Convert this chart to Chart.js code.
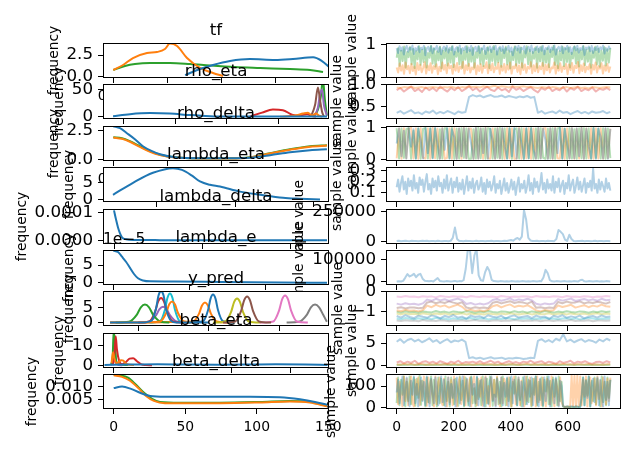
<!DOCTYPE html>
<html>
<head>
<meta charset="utf-8">
<script src="https://cdn.jsdelivr.net/npm/chart.js@4.4.0/dist/chart.umd.min.js"></script>
<style>
  body { margin: 0; background: #fff; }
  #fig { position: relative; width: 626px; height: 449px; overflow: hidden; background: #fff; }
  #fig canvas { position: absolute; left: 0; top: 0; }
</style>
</head>
<body>
<div id="fig"></div>
<script>
// ---- data: one row per variable, KDE on the left, trace on the right ----
const titles = ['tf', 'rho_eta', 'rho_delta', 'lambda_eta', 'lambda_delta', 'lambda_e', 'y_pred', 'beta_eta', 'beta_delta'];

// left column (frequency) axes
const kdeXMin = [-0.0476, 0.12, -0.0476, 0.031, -12500, -6800, -1.75, -0.35, -7.5];
const kdeXMax = [0.9976, 0.998, 0.9976, 0.32, 244000, 142000, -0.15, 7.3, 150.5];
const kdeXTicks = [[0, 0.25, 0.5, 0.75], [0.2, 0.4, 0.6, 0.8], [0, 0.25, 0.5, 0.75], [0.1, 0.2, 0.3], [0, 100000, 200000], [0, 50000, 100000], [-1.5, -1, -0.5], [0, 2, 4, 6], [0, 50, 100, 150]];
const kdeXTickLabels = [['0.00', '0.25', '0.50', '0.75'], ['0.2', '0.4', '0.6', '0.8'], ['0.00', '0.25', '0.50', '0.75'], ['0.1', '0.2', '0.3'], ['0', '100000', '200000'], ['0', '50000', '100000'], ['−1.5', '−1.0', '−0.5'], ['0', '2', '4', '6'], ['0', '50', '100', '150']];
const kdeYMin = [-0.17, -4.4, -0.155, -0.65, -1.3e-5, -0.56e-5, -1.1, -1.4, 0.0015];
const kdeYMax = [3.9, 60.4, 2.86, 9.65, 1.12e-4, 9.17e-5, 10.5, 16.1, 0.0149];
const kdeYTicks = [[0, 2.5], [0, 50], [0, 2.5], [0, 5], [0, 0.0001], [0, 5e-5], [0, 5], [0, 10], [0.005, 0.01]];
const kdeYTickLabels = [['0.0', '2.5'], ['0', '50'], ['0.0', '2.5'], ['0', '5'], ['0.0000', '0.0001'], ['0', '5'], ['0', '5'], ['0', '10'], ['0.005', '0.010']];
const kdeOffsetText = ['', '', '', '', '', '1e−5', '', '', ''];

// right column (sample value) axes
const traceXTicks = [0, 200, 400, 600];
const traceYMin = [-0.03, 0.22, -0.05, 0.016, -21700, -13600, -1.72, -0.64, -7.5];
const traceYMax = [1.06, 1.01, 1.05, 0.335, 270000, 145000, 0.03, 7.3, 157];
const traceYTicks = [[0, 1], [0.5, 1], [0, 1], [0.1, 0.2, 0.3], [0, 250000], [0, 100000], [-1, 0], [0, 5], [0, 100]];
const traceYTickLabels = [['0', '1'], ['0.5', '1.0'], ['0', '1'], ['0.1', '0.2', '0.3'], ['0', '250000'], ['0', '100000'], ['−1', '0'], ['0', '5'], ['0', '100']];

// KDE curves, [x, density]
const tfKdeBlue = [[0.332,0.17],[0.401,0.87],[0.461,1.34],[0.54,1.8],[0.632,2.03],[0.748,1.92],[0.831,2.03],[0.924,2.23],[0.965,1.8],[0.997,1.14]];
const tfKdeOrange = [[0,0.76],[0.045,1.34],[0.091,2.15],[0.156,2.73],[0.202,2.85],[0.239,3.2],[0.262,3.84],[0.295,3.55],[0.341,2.15],[0.401,1.0],[0.461,0.41],[0.507,0.06]];
const tfKdeGreen = [[0,0.76],[0.054,1.22],[0.1,1.45],[0.17,1.57],[0.262,1.57],[0.355,1.45],[0.447,1.28],[0.563,1.1],[0.679,0.99],[0.817,0.87],[0.91,0.76],[0.97,0.52]];

const rhoEtaKdeBlue = [[0.159,0.9],[0.225,4.6],[0.303,6.5],[0.38,5.6],[0.458,2.8],[0.536,0.9],[0.652,0.2],[0.808,0.1],[0.99,0.1]];
const rhoEtaKdeOrange = [[0.808,0],[0.866,1.9],[0.897,5.6],[0.916,7.4],[0.932,1.9],[0.948,5.6],[0.959,1.9],[0.971,0]];
const rhoEtaKdeGreen = [[0.936,0],[0.955,13],[0.967,40],[0.974,70],[0.982,31],[0.99,2]];
const rhoEtaKdeRed = [[0.691,0],[0.738,7.4],[0.78,13],[0.819,12],[0.854,3.7],[0.885,1.9],[0.913,4.6],[0.932,0.9],[0.948,0]];
const rhoEtaKdePurple = [[0.94,0],[0.955,17],[0.963,41],[0.971,50],[0.978,22],[0.99,2]];
const rhoEtaKdeBrown = [[0.928,0],[0.944,22],[0.955,54],[0.963,31],[0.971,9],[0.978,0]];

const rhoDeltaKdeBlue = [[0,2.84],[0.031,2.67],[0.063,2.24],[0.1,1.72],[0.137,1.12],[0.179,0.69],[0.216,0.43],[0.285,0.17],[0.401,0.09],[0.54,0.09],[0.632,0.13],[0.725,0.34],[0.817,0.6],[0.91,0.78],[0.988,0.86]];
const rhoDeltaKdeOrange = [[0,1.86],[0.04,1.76],[0.077,1.5],[0.123,1.06],[0.17,0.64],[0.216,0.35],[0.285,0.14],[0.401,0.07],[0.54,0.07],[0.632,0.15],[0.725,0.49],[0.817,0.82],[0.91,1.08],[0.988,1.17]];
const rhoDeltaKdeGreen = [[0,1.9],[0.04,1.81],[0.077,1.55],[0.123,1.12],[0.17,0.69],[0.216,0.39],[0.285,0.17],[0.401,0.09],[0.54,0.09],[0.632,0.17],[0.725,0.52],[0.817,0.86],[0.91,1.12],[0.988,1.21]];

const lambdaEtaKde = [[0.0438,1.47],[0.0694,5.0],[0.0949,7.94],[0.1205,9.3],[0.132,8.8],[0.1448,7.1],[0.155,5.4],[0.1678,4.4],[0.1806,3.9],[0.2062,2.4],[0.2318,1.5],[0.2612,0.6],[0.2829,0.3],[0.3085,0.05]];
const lambdaDeltaKde = [[0,1.07e-4],[2255,0.75e-4],[4525,0.46e-4],[6795,0.25e-4],[9065,0.11e-4],[13600,0.04e-4],[23820,0.015e-4],[52200,0.008e-4],[97600,0.005e-4],[154300,0.003e-4],[241700,0.002e-4]];
const lambdaEKde = [[0,9.0e-5],[3076,8.6e-5],[5710,7.3e-5],[8343,5.9e-5],[10977,4.2e-5],[13610,2.5e-5],[16244,1.3e-5],[19536,0.7e-5],[24145,0.45e-5],[40605,0.4e-5],[70233,0.3e-5],[109737,0.15e-5],[140682,0.05e-5]];

const yPredKde0 = [[-1.7,0.02],[-1.48,0.05],[-1.41,0.6],[-1.374,4.8],[-1.357,9.0],[-1.339,10.6],[-1.321,9.0],[-1.304,4.8],[-1.268,0.6],[-1.23,0.05],[-1.0,0.02]];
const yPredKde1 = [[-1.7,0.1],[-1.5,0.1],[-1.345,0.4],[-1.303,3.2],[-1.282,6.0],[-1.261,7.0],[-1.24,6.0],[-1.219,3.2],[-1.177,0.4],[-1.12,0.05]];
const yPredKde2 = [[-1.66,0.05],[-1.567,0.3],[-1.51,2.7],[-1.482,5.1],[-1.453,6.0],[-1.424,5.1],[-1.396,2.7],[-1.339,0.3],[-1.28,0.05]];
const yPredKde3 = [[-1.5,0.05],[-1.423,0.4],[-1.381,3.7],[-1.36,7.0],[-1.339,8.2],[-1.318,7.0],[-1.297,3.7],[-1.255,0.4],[-1.18,0.05]];
const yPredKde4 = [[-1.5,0.05],[-1.425,0.3],[-1.375,2.4],[-1.35,4.5],[-1.325,5.3],[-1.3,4.5],[-1.275,2.4],[-1.225,0.3],[-1.15,0.05]];
const yPredKde5 = [[-0.9,0.05],[-0.814,0.4],[-0.772,3.9],[-0.751,7.4],[-0.73,8.7],[-0.709,7.4],[-0.688,3.9],[-0.646,0.4],[-0.56,0.05]];
const yPredKde6 = [[-0.64,0.05],[-0.545,0.4],[-0.503,4.1],[-0.482,7.7],[-0.461,9.0],[-0.44,7.7],[-0.419,4.1],[-0.377,0.4],[-0.3,0.05]];
const yPredKde7 = [[-0.45,0.05],[-0.363,0.3],[-0.306,2.7],[-0.278,5.1],[-0.249,6.0],[-0.22,5.1],[-0.192,2.7],[-0.165,0.3]];
const yPredKde8 = [[-0.97,0.05],[-0.885,0.4],[-0.843,3.6],[-0.822,6.8],[-0.801,8.0],[-0.78,6.8],[-0.759,3.6],[-0.717,0.4],[-0.63,0.05]];
const yPredKde9 = [[-1.42,0.05],[-1.346,0.5],[-1.311,4.4],[-1.294,8.2],[-1.276,9.7],[-1.258,8.2],[-1.241,4.4],[-1.206,0.5],[-1.13,0.05]];
const yPredKde10 = [[-1.12,0.05],[-1.041,0.5],[-1.006,4.2],[-0.989,7.9],[-0.971,9.3],[-0.953,7.9],[-0.936,4.2],[-0.901,0.5],[-0.82,0.05]];
const yPredKde11 = [[-1.7,0.1],[-1.4,0.1],[-1.2,0.3],[-1.112,0.4],[-1.07,3.0],[-1.049,5.7],[-1.028,6.7],[-1.007,5.7],[-0.986,3.0],[-0.944,0.4],[-0.86,0.05]];

const betaEtaKdeBlue = [[-0.3,0.1],[0.5,0.3],[1.5,0.45],[2.5,0.3],[3.5,0.25],[4.5,0.3],[5.5,0.45],[6.5,0.35],[7.25,0.15]];
const betaEtaKdeOrange = [[-0.06,1],[-0.01,6.5],[0.04,3],[0.1,1],[0.18,1.5],[0.26,2.5],[0.34,2.3],[0.42,0.8],[0.55,0.2],[0.7,0.1]];
const betaEtaKdeGreen = [[-0.08,0],[-0.02,5],[0.01,17],[0.05,12],[0.1,2],[0.2,0.3],[0.5,0.1]];
const betaEtaKdeRed = [[-0.02,0],[0.04,6],[0.08,14.5],[0.12,8],[0.2,2],[0.3,0.5],[0.42,1.5],[0.55,3.3],[0.67,3.5],[0.8,2],[0.95,0.4],[1.1,0.1],[1.31,0]];
const betaEtaKdePurple = [[-0.03,0],[0.02,4],[0.07,1.5],[0.15,0.3],[0.3,0]];

const betaDeltaKdeBlue = [[0,0.0095],[5.8,0.0101],[12.1,0.0092],[18.4,0.0077],[25.4,0.0065],[35.8,0.0062],[60.3,0.0062],[95.3,0.0062],[116.2,0.006],[130.2,0.0052],[140.7,0.0042],[149.1,0.0031]];
const betaDeltaKdeOrange = [[0,0.0144],[5.8,0.0138],[11.4,0.0123],[17,0.0096],[22.6,0.0065],[28.1,0.0046],[35.8,0.0037],[74.3,0.0037],[102.2,0.004],[123.2,0.0044],[137.2,0.004],[149.1,0.0025]];
const betaDeltaKdeGreen = [[0,0.0146],[4.4,0.0144],[10,0.0135],[15.6,0.0108],[21.2,0.0077],[26.8,0.0054],[32.3,0.0042],[46.3,0.0039],[74.3,0.0039],[102.2,0.0042],[123.2,0.0046],[137.2,0.0042],[149.1,0.0027]];

// traces, evenly spaced over draws 0..749
const tfTraceBlue = [0.9,0.75,0.96,0.82,0.93,0.7,0.88,0.97,0.79,0.92,0.85,0.98,0.72,0.9,0.83,0.95,0.77,0.91,0.87,0.97,0.68,0.89,0.94,0.8,0.96,0.74,0.9,0.86,0.97,0.78,0.93,0.71,0.88,0.95,0.82,0.97,0.76,0.91,0.84,0.96,0.7,0.89,0.93,0.79,0.98,0.73,0.9,0.85,0.95,0.77,0.92,0.81,0.97,0.69,0.88,0.94,0.8,0.96,0.75,0.9,0.86,0.98,0.72,0.91,0.83,0.95,0.78,0.93,0.87,0.97,0.7,0.89,0.94,0.81,0.96,0.74,0.9,0.85,0.97,0.79,0.92,0.68,0.88,0.95,0.83,0.97,0.76,0.91,0.86,0.96,0.73,0.9,0.94,0.8,0.98,0.75,0.89,0.84,0.95,0.78,0.93,0.82,0.97,0.71,0.9,0.87,0.96,0.77,0.92,0.85,0.98,0.7,0.88,0.94,0.81,0.96,0.74,0.91,0.86,0.97,0.79,0.93,0.72,0.89,0.95,0.83,0.97,0.76,0.9,0.85,0.96,0.69,0.92,0.88,0.95,0.8,0.97,0.75,0.91,0.84,0.96,0.78,0.93,0.87,0.98,0.73,0.9,0.82,0.95,0.86];
const tfTraceOrange = [0.3,0.14,0.42,0.2,0.37,0.1,0.45,0.24,0.35,0.12,0.41,0.19,0.33,0.08,0.44,0.22,0.38,0.15,0.29,0.46,0.11,0.36,0.21,0.43,0.13,0.34,0.25,0.4,0.09,0.32,0.18,0.45,0.23,0.38,0.12,0.42,0.27,0.35,0.1,0.39,0.2,0.44,0.16,0.33,0.26,0.47,0.11,0.37,0.22,0.41,0.14,0.3,0.24,0.43,0.09,0.36,0.19,0.4,0.13,0.34,0.28,0.46,0.12,0.38,0.21,0.42,0.15,0.31,0.25,0.44,0.1,0.35,0.2,0.41,0.14,0.37,0.23,0.45,0.11,0.33,0.27,0.4,0.16,0.36,0.09,0.43,0.22,0.39,0.13,0.32,0.26,0.46,0.12,0.37,0.18,0.42,0.15,0.34,0.24,0.44,0.1,0.38,0.21,0.4,0.14,0.3,0.27,0.45,0.11,0.36,0.2,0.43,0.16,0.33,0.25,0.41,0.09,0.39,0.22,0.44,0.13,0.35,0.28,0.47,0.12,0.37,0.19,0.42,0.15,0.32,0.24,0.4,0.1,0.38,0.23,0.45,0.14,0.34,0.26,0.43,0.11,0.36,0.2,0.41,0.16,0.33];
const tfTraceGreen = [0.6,0.9,0.35,0.82,0.5,0.95,0.3,0.78,0.62,0.93,0.4,0.87,0.28,0.8,0.55,0.96,0.38,0.85,0.47,0.92,0.3,0.75,0.6,0.97,0.42,0.88,0.33,0.8,0.52,0.94,0.27,0.83,0.58,0.9,0.36,0.86,0.45,0.95,0.31,0.79,0.63,0.92,0.4,0.87,0.29,0.82,0.54,0.96,0.35,0.84,0.48,0.91,0.3,0.77,0.6,0.95,0.41,0.88,0.34,0.81,0.56,0.93,0.28,0.85,0.5,0.97,0.37,0.8,0.46,0.9,0.32,0.86,0.59,0.94,0.39,0.83,0.27,0.79,0.53,0.95,0.36,0.88,0.44,0.92,0.3,0.81,0.61,0.96,0.4,0.85,0.33,0.78,0.57,0.93,0.29,0.87,0.49,0.95,0.35,0.82,0.45,0.9,0.31,0.84,0.62,0.97,0.38,0.86,0.28,0.8,0.52,0.94,0.34,0.89,0.47,0.92,0.3,0.76,0.58,0.95,0.42,0.87,0.33,0.83,0.55,0.96,0.37,0.85,0.48,0.91,0.29,0.8,0.6,0.94,0.39,0.88,0.32,0.82,0.51,0.93,0.36,0.86,0.45,0.9];

const rhoEtaTraceBlue = [0.36,0.4,0.34,0.38,0.42,0.35,0.37,0.33,0.39,0.36,0.41,0.34,0.38,0.35,0.4,0.37,0.33,0.39,0.36,0.38,0.72,0.76,0.73,0.75,0.71,0.74,0.76,0.72,0.73,0.75,0.71,0.74,0.72,0.7,0.73,0.71,0.74,0.7,0.72,0.36,0.4,0.34,0.37,0.39,0.35,0.41,0.36,0.38,0.33,0.37,0.4,0.35,0.38,0.34,0.39,0.36,0.37,0.4,0.35,0.38];
const rhoEtaTraceOrange = [0.93,0.92,0.94,0.93,0.95,0.92,0.93,0.94,0.92,0.93,0.94,0.93,0.92,0.94,0.93,0.95,0.93,0.92,0.94,0.93,0.96,0.94,0.95,0.93,0.96,0.94,0.95,0.97,0.94,0.96,0.95,0.93,0.96,0.94,0.95,0.96,0.94,0.95,0.93,0.92,0.94,0.93,0.92,0.94,0.93,0.91,0.93,0.94,0.92,0.93,0.94,0.92,0.93,0.91,0.94,0.93,0.92,0.93,0.94,0.93];
const rhoEtaTraceRed = [0.87,0.92,0.84,0.9,0.95,0.85,0.9,0.83,0.93,0.87,0.92,0.85,0.95,0.89,0.84,0.92,0.87,0.94,0.85,0.9,0.96,0.87,0.92,0.84,0.9,0.95,0.88,0.85,0.93,0.87,0.9,0.83,0.95,0.88,0.92,0.85,0.9,0.94,0.87,0.82,0.92,0.88,0.95,0.85,0.9,0.87,0.94,0.84,0.92,0.88,0.95,0.85,0.9,0.87,0.93,0.84,0.9,0.88,0.92,0.87];

const rhoDeltaTraceBlue = [0.5,0.97,0.1,0.9,0.03,0.98,0.4,0.95,0.02,0.97,0.6,0.03,0.98,0.2,0.96,0.04,0.99,0.5,0.02,0.97,0.3,0.98,0.03,0.95,0.7,0.02,0.97,0.1,0.98,0.04,0.96,0.5,0.02,0.99,0.03,0.97,0.2,0.98,0.02,0.96,0.6,0.03,0.97,0.04,0.98,0.4,0.02,0.97,0.1,0.99,0.03,0.96,0.5,0.02,0.98,0.04,0.97,0.3,0.02,0.99,0.03,0.96,0.6,0.02,0.98,0.03,0.97,0.2,0.99,0.02,0.96,0.5,0.03,0.98,0.04,0.97,0.1,0.99,0.02,0.96,0.4,0.03,0.98,0.02,0.97,0.7,0.03,0.98,0.02,0.96];
const rhoDeltaTraceOrange = [0.03,0.97,0.02,0.98,0.04,0.96,0.99,0.03,0.97,0.02,0.98,0.05,0.03,0.97,0.02,0.99,0.04,0.96,0.03,0.98,0.02,0.05,0.97,0.02,0.98,0.03,0.96,0.02,0.99,0.04,0.97,0.96,0.02,0.98,0.03,0.97,0.02,0.99,0.04,0.03,0.97,0.02,0.98,0.03,0.96,0.02,0.98,0.04,0.97,0.02,0.03,0.99,0.02,0.97,0.04,0.98,0.02,0.96,0.03,0.98,0.04,0.97,0.98,0.03,0.97,0.02,0.99,0.04,0.03,0.98,0.02,0.97,0.04,0.98,0.02,0.96,0.03,0.99,0.02,0.97,0.04,0.98,0.02,0.97,0.03,0.98,0.02,0.96,0.04,0.97];
const rhoDeltaTraceGreen = [0.98,0.03,0.97,0.05,0.95,0.98,0.02,0.9,0.04,0.97,0.02,0.96,0.99,0.03,0.98,0.05,0.97,0.02,0.95,0.03,0.98,0.97,0.04,0.99,0.02,0.96,0.03,0.98,0.05,0.97,0.02,0.02,0.95,0.03,0.99,0.04,0.97,0.02,0.98,0.96,0.03,0.97,0.05,0.99,0.02,0.97,0.04,0.98,0.02,0.95,0.97,0.03,0.98,0.02,0.96,0.04,0.99,0.02,0.97,0.03,0.98,0.05,0.02,0.96,0.03,0.98,0.02,0.97,0.99,0.04,0.96,0.02,0.98,0.03,0.95,0.02,0.97,0.04,0.98,0.03,0.97,0.02,0.99,0.05,0.96,0.03,0.98,0.02,0.97,0.04];

const lambdaEtaTrace = [0.15,0.22,0.11,0.19,0.25,0.13,0.2,0.09,0.23,0.16,0.21,0.12,0.26,0.14,0.19,0.1,0.24,0.17,0.22,0.11,0.2,0.27,0.13,0.18,0.09,0.23,0.15,0.21,0.12,0.25,0.16,0.19,0.1,0.22,0.14,0.26,0.12,0.18,0.23,0.1,0.2,0.15,0.24,0.11,0.19,0.13,0.22,0.09,0.17,0.25,0.12,0.2,0.14,0.23,0.1,0.18,0.21,0.13,0.16,0.24,0.11,0.19,0.09,0.22,0.15,0.2,0.12,0.17,0.25,0.1,0.18,0.14,0.21,0.09,0.16,0.23,0.12,0.19,0.1,0.15,0.22,0.13,0.2,0.08,0.17,0.24,0.11,0.18,0.14,0.21,0.1,0.16,0.26,0.12,0.19,0.09,0.23,0.15,0.2,0.11,0.17,0.28,0.13,0.19,0.1,0.22,0.14,0.18,0.12,0.25,0.1,0.2,0.15,0.23,0.11,0.17,0.21,0.09,0.19,0.14,0.26,0.12,0.18,0.22,0.1,0.16,0.24,0.13,0.2,0.11,0.17,0.23,0.1,0.19,0.15,0.21,0.12,0.32,0.14,0.18,0.1,0.22,0.13,0.2,0.16,0.11,0.23,0.14,0.19,0.12];

const lambdaDeltaTrace = [3000,5000,2000,4000,6000,3000,2000,5000,4000,3000,2000,4000,6000,3000,5000,2000,3000,4000,2000,5000,3000,2000,4000,3000,2000,5000,30000,115000,20000,4000,3000,2000,5000,3000,4000,2000,3000,5000,2000,4000,3000,2000,4000,3000,5000,2000,3000,4000,2000,3000,5000,3000,8000,12000,6000,20000,28000,15000,40000,260000,180000,30000,8000,4000,3000,5000,2000,4000,3000,2000,5000,3000,4000,2000,20000,95000,80000,60000,15000,4000,55000,20000,3000,2000,4000,3000,5000,2000,3000,4000,2000,3000,5000,2000,4000,3000,2000,4000,3000,2000];

const lambdaETrace = [2000,3000,2000,5000,20000,36000,25000,30000,37000,22000,33000,37000,15000,6000,4000,3000,5000,2000,10000,18000,5000,3000,2000,4000,3000,2000,3000,5000,2000,4000,3000,8000,60000,150000,140000,40000,120000,150000,30000,8000,5000,45000,68000,50000,10000,4000,3000,2000,4000,3000,2000,3000,2000,4000,3000,2000,3000,2000,4000,3000,2000,3000,2000,4000,3000,2000,4000,3000,20000,55000,40000,8000,3000,2000,4000,3000,2000,3000,4000,2000,3000,2000,4000,3000,2000,8000,10000,3000,2000,4000,3000,2000,3000,4000,2000,3000,2000,4000,3000,2000];

const yPredTrace0 = [-1.22,-1.3,-1.18,-1.27,-1.33,-1.2,-1.26,-1.31,-1.19,-1.24,-1.34,-1.21,-1.28,-1.17,-1.3,-1.25,-1.36,-1.2,-1.27,-1.23,-1.32,-1.18,-1.26,-1.29,-1.21,-1.35,-1.24,-1.19,-1.3,-1.26,-1.22,-1.33,-1.2,-1.28,-1.25,-1.37,-1.21,-1.27,-1.18,-1.31,-1.24,-1.29,-1.2,-1.34,-1.26,-1.22,-1.3,-1.19,-1.27,-1.24];
const yPredTrace1 = [-0.93,-0.98,-0.91,-0.96,-0.94,-0.99,-0.92,-0.7,-0.78,-0.66,-0.75,-0.69,-0.8,-0.72,-0.65,-0.76,-0.95,-0.9,-0.97,-0.93,-0.98,-0.91,-0.73,-0.67,-0.79,-0.7,-0.64,-0.77,-0.71,-0.75,-0.68,-0.8,-0.94,-0.99,-0.92,-0.96,-0.93,-0.69,-0.77,-0.72,-0.66,-0.8,-0.74,-0.68,-0.78,-0.7,-0.75,-0.65,-0.73,-0.76];
const yPredTrace2 = [-1.0,-1.05,-0.98,-1.03,-1.01,-1.06,-0.99,-1.02,-1.04,-0.97,-1.03,-1.0,-1.05,-0.99,-1.02,-1.04,-0.98,-1.01,-1.06,-1.0,-1.03,-0.97,-1.02,-1.05,-0.99,-1.01,-1.04,-0.98,-1.03,-1.0,-1.06,-0.99,-1.02,-1.04,-0.97,-1.01,-1.05,-1.0,-1.03,-0.98,-1.02,-1.04,-0.99,-1.01,-1.06,-1.0,-1.03,-0.98,-1.02,-1.0];
const yPredTrace4 = [-0.6,-0.65,-0.58,-0.63,-0.61,-0.66,-0.59,-0.4,-0.46,-0.36,-0.44,-0.38,-0.47,-0.41,-0.35,-0.43,-0.62,-0.57,-0.65,-0.6,-0.64,-0.58,-0.42,-0.37,-0.46,-0.4,-0.34,-0.45,-0.39,-0.43,-0.36,-0.44,-0.61,-0.66,-0.59,-0.63,-0.6,-0.38,-0.45,-0.4,-0.35,-0.47,-0.42,-0.37,-0.44,-0.39,-0.46,-0.36,-0.43,-0.41];
const yPredTrace5 = [-0.82,-0.78,-0.84,-0.8,-0.79,-0.83,-0.81,-0.54,-0.5,-0.58,-0.52,-0.57,-0.49,-0.55,-0.6,-0.53,-0.8,-0.84,-0.78,-0.82,-0.79,-0.83,-0.56,-0.51,-0.59,-0.53,-0.48,-0.57,-0.52,-0.55,-0.6,-0.5,-0.81,-0.78,-0.83,-0.8,-0.82,-0.52,-0.58,-0.5,-0.56,-0.54,-0.49,-0.59,-0.53,-0.57,-0.51,-0.55,-0.6,-0.52];
const yPredTrace6 = [-0.24,-0.27,-0.22,-0.26,-0.25,-0.28,-0.23,-0.26,-0.24,-0.29,-0.22,-0.25,-0.27,-0.23,-0.26,-0.24,-0.28,-0.22,-0.25,-0.27,-0.23,-0.26,-0.24,-0.28,-0.22,-0.25,-0.27,-0.24,-0.26,-0.23,-0.25,-0.28,-0.22,-0.26,-0.24,-0.27,-0.23,-0.25,-0.28,-0.22,-0.26,-0.24,-0.27,-0.23,-0.25,-0.28,-0.24,-0.26,-0.22,-0.25];
const yPredTrace7 = [-1.44,-1.47,-1.43,-1.46,-1.45,-1.48,-1.42,-1.46,-1.44,-1.47,-1.43,-1.45,-1.48,-1.44,-1.46,-1.43,-1.47,-1.45,-1.42,-1.46,-1.44,-1.48,-1.45,-1.43,-1.47,-1.44,-1.46,-1.42,-1.45,-1.47,-1.44,-1.46,-1.43,-1.48,-1.45,-1.44,-1.47,-1.43,-1.46,-1.45,-1.42,-1.47,-1.44,-1.46,-1.43,-1.48,-1.45,-1.44,-1.46,-1.45];
const yPredTrace8 = [-1.1,-1.14,-1.09,-1.13,-1.11,-1.15,-1.08,-1.12,-1.14,-1.1,-1.13,-1.09,-1.15,-1.11,-1.12,-1.08,-1.14,-1.1,-1.13,-1.11,-1.15,-1.09,-1.12,-1.14,-1.1,-1.13,-1.08,-1.12,-1.15,-1.11,-1.09,-1.14,-1.1,-1.13,-1.12,-1.08,-1.15,-1.11,-1.1,-1.14,-1.09,-1.13,-1.12,-1.1,-1.15,-1.11,-1.08,-1.13,-1.1,-1.12];
const yPredTrace9 = [-1.35,-1.38,-1.32,-1.36,-1.39,-1.33,-1.37,-1.34,-1.38,-1.31,-1.36,-1.35,-1.39,-1.33,-1.37,-1.34,-1.36,-1.32,-1.38,-1.35,-1.33,-1.39,-1.36,-1.34,-1.37,-1.32,-1.35,-1.38,-1.34,-1.36,-1.33,-1.39,-1.35,-1.37,-1.32,-1.36,-1.34,-1.38,-1.35,-1.33,-1.37,-1.34,-1.39,-1.36,-1.32,-1.35,-1.38,-1.34,-1.36,-1.35];

const betaEtaTraceBlue = [5.3,5.9,5.1,5.7,6.0,5.4,5.8,5.2,5.6,6.1,5.3,5.7,5.0,5.5,5.9,5.2,5.6,5.4,5.8,5.3,1.6,1.8,1.5,1.7,1.4,1.6,1.8,1.5,1.6,1.7,1.4,1.6,1.5,1.7,1.6,1.4,1.5,1.7,1.6,5.5,5.9,5.3,5.7,5.2,6.0,5.6,7.0,5.4,5.8,5.2,5.6,5.9,5.3,5.7,5.5,5.1,5.8,5.4,6.0,5.6];
const betaEtaTraceOrange = [0.2,0.1,0.3,0.15,0.25,0.1,0.2,0.3,0.12,0.22,0.18,0.28,0.1,0.2,0.25,0.15,0.3,0.12,0.2,0.17,0.25,0.1,0.22,0.3,0.14,0.2,0.26,0.1,0.18,0.24,0.12,0.28,0.2,0.15,0.1,0.22,0.3,0.16,0.2,0.12,0.26,0.18,0.1,0.24,0.2,0.14,0.3,0.18,0.22,0.1,0.25,0.16,0.2,0.28,0.12,0.22,0.18,0.1,0.24,0.2];
const betaEtaTraceGreen = [0.05,0.1,0.02,0.08,0.12,0.04,0.09,0.03,0.11,0.06,0.1,0.02,0.07,0.13,0.05,0.09,0.03,0.1,0.06,0.12,0.04,0.08,0.02,0.11,0.05,0.09,0.03,0.12,0.06,0.1,0.04,0.08,0.13,0.05,0.02,0.09,0.11,0.04,0.07,0.1,0.03,0.12,0.06,0.08,0.02,0.1,0.05,0.11,0.07,0.03,0.09,0.12,0.04,0.08,0.06,0.1,0.02,0.11,0.05,0.08];
const betaEtaTraceRed = [0.6,0.9,0.4,0.8,0.5,1.0,0.3,0.7,0.9,0.5,0.8,0.4,0.9,0.6,0.3,0.8,0.5,1.0,0.4,0.7,0.6,0.8,0.5,0.9,0.4,0.7,1.0,0.5,0.8,0.3,0.6,0.9,0.5,0.7,0.4,0.8,0.6,1.0,0.5,0.7,0.9,0.4,0.8,0.6,0.3,0.9,0.5,0.7,1.0,0.4,0.8,0.6,0.9,0.5,0.3,0.7,0.8,0.5,0.9,0.6];

const betaDeltaTraceBlue = [70,130,20,100,145,10,90,140,40,5,125,60,145,20,110,5,80,140,30,120,10,145,50,5,135,70,20,140,100,10,60,145,25,130,5,90,140,15,110,45,130,5,140,70,20,120,145,10,85,135,30,5,140,60,110,20,145,10,100,130,40,5,140,75,15,125,145,30,60,5,135,90,20,140,10,115,50,140,5,100,145,20,130,60,10,140,35,120,5,145,80,15,130,50,140,10,105,145,25,5,135,65,10,140,30,120,145,5,90,130,20,140,55,5,125,100,6,2,3,4,2,3,5,3,2,4,3,2,3,60,140,10,125,45,145,5,115,135,25,80,140,10,130,55,5,145,35,120,10,130];
const betaDeltaTraceOrange = [140,15,120,50,5,145,30,135,10,110,145,20,5,130,60,140,10,125,35,145,100,8,140,20,130,55,5,145,15,120,140,30,10,135,70,5,140,25,130,10,145,50,5,120,140,15,60,145,10,130,30,140,5,115,145,25,10,135,50,140,8,125,145,20,100,5,140,35,130,10,145,60,5,140,20,135,110,10,140,45,5,130,145,15,85,140,10,125,50,5,145,30,120,140,10,65,135,5,145,25,130,10,140,55,5,135,120,15,145,40,5,130,90,10,140,25,8,2,3,2,4,2,150,5,148,3,150,6,145,10,130,50,145,5,120,140,20,70,135,10,145,40,125,5,140,100,15,135,30,140];
const betaDeltaTraceGreen = [20,140,10,130,60,145,5,120,30,145,15,100,140,8,135,45,150,12,125,70,5,140,25,110,145,10,130,50,5,140,20,135,80,10,145,30,120,5,140,60,15,135,100,8,145,35,125,5,140,70,10,130,145,20,90,5,140,40,125,10,145,60,5,135,20,145,110,8,130,50,140,15,120,5,145,80,10,135,30,140,5,120,65,145,10,130,40,5,140,95,15,145,25,125,5,135,60,145,10,120,35,140,5,130,75,145,15,125,5,140,50,135,10,145,30,120,5,3,2,4,2,3,2,3,2,4,3,2,3,40,140,10,130,55,145,5,125,30,140,15,135,70,5,145,25,120,10,140,45,130];

// series per row: [colour index, data]
const kdeSeries = [
  [[0, tfKdeBlue], [1, tfKdeOrange], [2, tfKdeGreen]],
  [[0, rhoEtaKdeBlue], [1, rhoEtaKdeOrange], [3, rhoEtaKdeRed], [5, rhoEtaKdeBrown], [4, rhoEtaKdePurple], [2, rhoEtaKdeGreen]],
  [[0, rhoDeltaKdeBlue], [1, rhoDeltaKdeOrange], [2, rhoDeltaKdeGreen]],
  [[0, lambdaEtaKde]],
  [[0, lambdaDeltaKde]],
  [[0, lambdaEKde]],
  [[0, yPredKde0], [1, yPredKde1], [2, yPredKde2], [3, yPredKde3], [4, yPredKde4], [5, yPredKde5], [6, yPredKde6], [7, yPredKde7], [8, yPredKde8], [9, yPredKde9], [0, yPredKde10], [1, yPredKde11]],
  [[0, betaEtaKdeBlue], [1, betaEtaKdeOrange], [3, betaEtaKdeRed], [4, betaEtaKdePurple], [2, betaEtaKdeGreen]],
  [[0, betaDeltaKdeBlue], [1, betaDeltaKdeOrange], [2, betaDeltaKdeGreen]]
];
const traceSeries = [
  [[0, tfTraceBlue], [1, tfTraceOrange], [2, tfTraceGreen]],
  [[0, rhoEtaTraceBlue], [1, rhoEtaTraceOrange], [3, rhoEtaTraceRed]],
  [[0, rhoDeltaTraceBlue], [1, rhoDeltaTraceOrange], [2, rhoDeltaTraceGreen]],
  [[0, lambdaEtaTrace]],
  [[0, lambdaDeltaTrace]],
  [[0, lambdaETrace]],
  [[0, yPredTrace0], [1, yPredTrace1], [2, yPredTrace2], [4, yPredTrace4], [5, yPredTrace5], [6, yPredTrace6], [7, yPredTrace7], [8, yPredTrace8], [9, yPredTrace9]],
  [[0, betaEtaTraceBlue], [1, betaEtaTraceOrange], [2, betaEtaTraceGreen], [3, betaEtaTraceRed]],
  [[0, betaDeltaTraceBlue], [1, betaDeltaTraceOrange], [2, betaDeltaTraceGreen]]
];

// ---- layout (matplotlib-ish, dpi 100) ----
const W = 626, H = 449;
const ROW_H = 35;
const COL_X = [[103, 329], [386, 621]];
const TAB10 = ['#1f77b4', '#ff7f0e', '#2ca02c', '#d62728', '#9467bd', '#8c564b', '#e377c2', '#7f7f7f', '#bcbd22', '#17becf'];
const FAMILY = 'DejaVu Sans';
const XTICK_PX = 13.9, YTICK_PX = 16.7, LABEL_PX = 13.9, TITLE_PX = 16.7, OFFSET_PX = 15.5;

function rgba(hex, a) {
  const n = parseInt(hex.slice(1), 16);
  return `rgba(${n >> 16},${(n >> 8) & 255},${n & 255},${a})`;
}

// axes background, frame, title, ylabel, offset text
const axesDeco = {
  id: 'axesDeco',
  beforeDraw(chart) {
    const a = chart.chartArea, ctx = chart.ctx;
    ctx.save();
    ctx.fillStyle = '#fff';
    ctx.fillRect(a.left, a.top, a.right - a.left, a.bottom - a.top);
    ctx.restore();
  },
  afterDraw(chart) {
    const a = chart.chartArea, ctx = chart.ctx;
    const o = chart.options.plugins.axesDeco;
    ctx.save();
    ctx.strokeStyle = '#000';
    ctx.lineWidth = 1;
    ctx.strokeRect(a.left + 0.5, a.top + 0.5, a.right - a.left - 1, a.bottom - a.top - 1);
    ctx.fillStyle = '#000';
    if (o.title) {
      ctx.font = `${TITLE_PX}px "${FAMILY}"`;
      ctx.textAlign = 'center';
      ctx.textBaseline = 'alphabetic';
      ctx.fillText(o.title, (a.left + a.right) / 2, a.top - 8.3);
    }
    if (o.offset) {
      ctx.font = `${OFFSET_PX}px "${FAMILY}"`;
      ctx.textAlign = 'left';
      ctx.textBaseline = 'bottom';
      ctx.fillText(o.offset, a.left, a.top - 2);
    }
    // ylabel sits left of the widest tick label
    ctx.font = `${YTICK_PX}px "${FAMILY}"`;
    const w = Math.max(...o.tickLabels.map(t => ctx.measureText(t).width));
    const xr = a.left - 5 - 5 - w - 5.6;
    ctx.font = `${LABEL_PX}px "${FAMILY}"`;
    ctx.translate(xr, (a.top + a.bottom) / 2);
    ctx.rotate(-Math.PI / 2);
    ctx.textAlign = 'center';
    ctx.textBaseline = 'bottom';
    ctx.fillText(o.ylabel, 0, 0);
    ctx.restore();
  }
};

// scale boxes fill the whole margin so tick labels are not clipped away
function axisOpts(min, max, ticks, labels, boxSize, isY) {
  return {
    type: 'linear', min, max,
    afterFit(s) { if (isY) s.width = boxSize; else s.height = boxSize; },
    afterBuildTicks(s) { s.ticks = ticks.map(v => ({ value: v })); },
    ticks: {
      callback: (v, i) => labels[i],
      font: { family: FAMILY, size: isY ? YTICK_PX : XTICK_PX }, color: '#000',
      padding: 5, autoSkip: false, maxRotation: 0, minRotation: 0
    },
    grid: { drawOnChartArea: false, drawTicks: true, tickLength: 5, color: '#000', lineWidth: 1 },
    border: { display: false }
  };
}

function makeAxes(row, col) {
  const top = Math.round(43 + 41.4 * row);
  const bottom = top + ROW_H;
  const [x0, x1] = COL_X[col];
  const cv = document.createElement('canvas');
  cv.width = W; cv.height = H;
  document.getElementById('fig').appendChild(cv);

  const isKde = col === 0;
  const list = isKde ? kdeSeries[row] : traceSeries[row];
  const datasets = list.map(([ci, d]) => ({
    data: isKde ? d.map(p => ({ x: p[0], y: p[1] }))
                : d.map((v, i) => ({ x: i * 749 / (d.length - 1), y: v })),
    borderColor: isKde ? TAB10[ci] : rgba(TAB10[ci], 0.35),
    borderWidth: 2,
    borderJoinStyle: 'round',
    tension: isKde ? 0.4 : 0,
    cubicInterpolationMode: isKde ? 'monotone' : 'default',
    pointRadius: 0,
    fill: false,
    clip: 0
  }));

  const yTicks = isKde ? kdeYTicks[row] : traceYTicks[row];
  const yLabels = isKde ? kdeYTickLabels[row] : traceYTickLabels[row];

  new Chart(cv, {
    type: 'line',
    data: { datasets },
    plugins: [axesDeco],
    options: {
      responsive: false, animation: false, events: [],
      layout: { padding: { left: 0, right: W - x1, top: top, bottom: 0 } },
      plugins: {
        legend: { display: false }, tooltip: { enabled: false },
        axesDeco: {
          title: isKde ? titles[row] : '',
          ylabel: isKde ? 'frequency' : 'sample value',
          tickLabels: yLabels,
          offset: isKde ? kdeOffsetText[row] : ''
        }
      },
      scales: {
        x: isKde
          ? axisOpts(kdeXMin[row], kdeXMax[row], kdeXTicks[row], kdeXTickLabels[row], H - bottom, false)
          : axisOpts(-37.45, 786.45, traceXTicks, traceXTicks.map(String), H - bottom, false),
        y: isKde
          ? axisOpts(kdeYMin[row], kdeYMax[row], yTicks, yLabels, x0, true)
          : axisOpts(traceYMin[row], traceYMax[row], yTicks, yLabels, x0, true)
      }
    }
  });
}

// same drawing order as matplotlib: row by row, left then right
for (let r = 0; r < titles.length; r++) {
  makeAxes(r, 0);
  makeAxes(r, 1);
}
</script>
</body>
</html>
